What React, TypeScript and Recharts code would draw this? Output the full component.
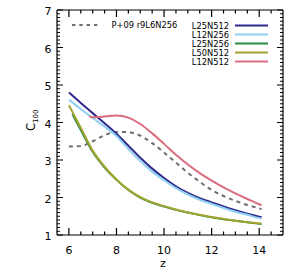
import React from "react";
import { LineChart, Line, XAxis, YAxis } from "recharts";

const zMain = [6, 6.5, 7, 7.5, 8, 8.5, 9, 9.5, 10, 10.5, 11, 11.5, 12, 12.5, 13, 13.5, 14, 14.1];
const zGreen = [6.15, 6.5, 7, 7.5, 8, 8.5, 9, 9.5, 10, 10.5, 11, 11.5, 12, 12.5, 13, 13.5, 14, 14.1];
const zPink = [6.85, 7, 7.5, 8, 8.5, 9, 9.5, 10, 10.5, 11, 11.5, 12, 12.5, 13, 13.5, 14, 14.1];

const cL25N512 = [4.8, 4.52, 4.25, 3.98, 3.7, 3.38, 3.06, 2.77, 2.52, 2.3, 2.12, 1.98, 1.87, 1.76, 1.66, 1.57, 1.49, 1.48];
const cL12N256 = [4.61, 4.36, 4.12, 3.89, 3.64, 3.29, 2.97, 2.69, 2.46, 2.25, 2.08, 1.94, 1.83, 1.72, 1.62, 1.54, 1.45, 1.44];
const cL25N256 = [4.22, 3.8, 3.22, 2.8, 2.47, 2.2, 2.0, 1.86, 1.76, 1.67, 1.6, 1.53, 1.47, 1.42, 1.38, 1.34, 1.3, 1.29];
const cL50N512 = [4.46, 3.86, 3.25, 2.82, 2.48, 2.21, 2.01, 1.87, 1.77, 1.68, 1.6, 1.54, 1.48, 1.43, 1.38, 1.34, 1.31, 1.3];
const cL12N512 = [4.17, 4.14, 4.16, 4.19, 4.13, 3.96, 3.71, 3.43, 3.14, 2.88, 2.65, 2.45, 2.27, 2.11, 1.96, 1.82, 1.79];
const cP09 = [3.36, 3.37, 3.5, 3.66, 3.75, 3.74, 3.65, 3.45, 3.2, 2.93, 2.66, 2.42, 2.2, 2.04, 1.91, 1.8, 1.71, 1.69];

const seriesNames = ["L25N512", "L12N256", "L25N256", "L50N512", "L12N512"];
const seriesColors = ["#2e2a8c", "#8fd0f2", "#2a8a3e", "#a4a430", "#db6c80"];
const dashedName = "P+09 r9L6N256";

const xMajor = [6, 8, 10, 12, 14];
const xTicks = [6, 6.5, 7, 7.5, 8, 8.5, 9, 9.5, 10, 10.5, 11, 11.5, 12, 12.5, 13, 13.5, 14, 14.5];
const yMajor = [1, 2, 3, 4, 5, 6, 7];
const yTicks: number[] = [];
for (let i = 10; i <= 70; i++) yTicks.push(i / 10);

const mk = (zs: number[], cs: number[]) => zs.map((z, i) => ({ z, c: cs[i] }));
const dL25N512 = mk(zMain, cL25N512);
const dL12N256 = mk(zMain, cL12N256);
const dL25N256 = mk(zGreen, cL25N256);
const dL50N512 = mk(zMain, cL50N512);
const dL12N512 = mk(zPink, cL12N512);
const dP09 = mk(zMain, cP09);
const seriesData = [dL25N512, dL12N256, dL25N256, dL50N512, dL12N512];

const FONT = "'DejaVu Sans', sans-serif";
const isMajor = (arr: number[], v: number) => arr.some((m) => Math.abs(m - v) < 1e-6);
const MINOR = 3.5;
const MAJOR = 7;
const TICK = "#000";

const BottomTick = (p: any) => {
  const v = p.payload.value;
  const maj = isMajor(xMajor, v);
  const len = maj ? MAJOR : MINOR;
  return (
    <g>
      <rect x={p.x - 0.6} y={p.y - len} width={1.2} height={len} fill={TICK} />
      {maj && (
        <text x={p.x} y={p.y + 19} textAnchor="middle" fontSize={11} fontFamily={FONT} fill="#000" stroke="none">
          {v}
        </text>
      )}
    </g>
  );
};
const TopTick = (p: any) => {
  const v = p.payload.value;
  const len = isMajor(xMajor, v) ? MAJOR : MINOR;
  return <rect x={p.x - 0.6} y={p.y} width={1.2} height={len} fill={TICK} />;
};
const LeftTick = (p: any) => {
  const v = p.payload.value;
  const maj = isMajor(yMajor, v);
  const len = maj ? MAJOR - 1 : MINOR - 0.5;
  return (
    <g>
      <rect x={p.x} y={p.y - 0.5} width={len} height={1} fill={TICK} />
      {maj && (
        <text x={p.x - 5.5} y={p.y + 5} textAnchor="end" fontSize={11} fontFamily={FONT} fill="#000" stroke="none">
          {v}
        </text>
      )}
    </g>
  );
};
const RightTick = (p: any) => {
  const v = p.payload.value;
  const len = isMajor(yMajor, v) ? MAJOR - 1 : MINOR - 0.5;
  return <rect x={p.x - len} y={p.y - 0.5} width={len} height={1} fill={TICK} />;
};

export default function App() {
  return (
    <div style={{ position: "absolute", left: 0, top: 0, width: 293, height: 271, background: "#fff" }}>
      <LineChart width={293} height={271} margin={{ top: 9, right: 9, bottom: 0, left: 0 }}>
        <XAxis
          xAxisId="b"
          type="number"
          dataKey="z"
          domain={[5.5, 15]}
          ticks={xTicks}
          interval={0}
          allowDataOverflow
          height={36}
          tickSize={0}
          tickMargin={0}
          tickLine={false}
          tick={BottomTick}
          axisLine={{ stroke: "#000", strokeWidth: 1.2 }}
        />
        <XAxis
          xAxisId="t"
          orientation="top"
          type="number"
          dataKey="z"
          domain={[5.5, 15]}
          ticks={xTicks}
          interval={0}
          allowDataOverflow
          height={1}
          tickSize={0}
          tickMargin={0}
          tickLine={false}
          tick={TopTick}
          axisLine={{ stroke: "#000", strokeWidth: 1.2 }}
        />
        <YAxis
          yAxisId="l"
          type="number"
          domain={[1, 7]}
          ticks={yTicks}
          interval={0}
          allowDataOverflow
          width={57}
          tickSize={0}
          tickMargin={0}
          tickLine={false}
          tick={LeftTick}
          axisLine={{ stroke: "#000", strokeWidth: 1.2 }}
        />
        <YAxis
          yAxisId="r"
          orientation="right"
          type="number"
          domain={[1, 7]}
          ticks={yTicks}
          interval={0}
          allowDataOverflow
          width={1}
          tickSize={0}
          tickMargin={0}
          tickLine={false}
          tick={RightTick}
          axisLine={{ stroke: "#000", strokeWidth: 1.2 }}
        />
        <Line
          xAxisId="b"
          yAxisId="l"
          data={dP09}
          dataKey="c"
          type="monotone"
          stroke="#6e6e6e"
          strokeWidth={2}
          strokeDasharray="4 4"
          dot={false}
          isAnimationActive={false}
        />
        {seriesNames.map((n, i) => (
          <Line
            key={n}
            xAxisId="b"
            yAxisId="l"
            data={seriesData[i]}
            dataKey="c"
            name={n}
            type="monotone"
            stroke={seriesColors[i]}
            strokeWidth={2}
            dot={false}
            isAnimationActive={false}
          />
        ))}
      </LineChart>
      <svg
        width={293}
        height={271}
        style={{ position: "absolute", left: 0, top: 0, pointerEvents: "none" }}
      >
        <line x1={72} x2={100} y1={25} y2={25} stroke="#6e6e6e" strokeWidth={2} strokeDasharray="3.4 3.9" />
        <text x={111.5} y={28} fontSize={8.3} fontFamily={FONT} fill="#000">
          {dashedName}
        </text>
        {seriesNames.map((n, i) => (
          <g key={n}>
            <text x={229} y={28.5 + i * 9} textAnchor="end" fontSize={8.3} fontFamily={FONT} fill="#000">
              {n}
            </text>
            <line x1={235} x2={268} y1={25.5 + i * 9} y2={25.5 + i * 9} stroke={seriesColors[i]} strokeWidth={2} />
          </g>
        ))}
        <text transform="translate(35,131) rotate(-90)" fontSize={11.5} fontFamily={FONT} fill="#000">
          C
          <tspan fontSize={7} dy={3}>100</tspan>
        </text>
        <text x={163} y={267} textAnchor="middle" fontSize={11} fontFamily={FONT} fill="#000">
          z
        </text>
      </svg>
    </div>
  );
}
